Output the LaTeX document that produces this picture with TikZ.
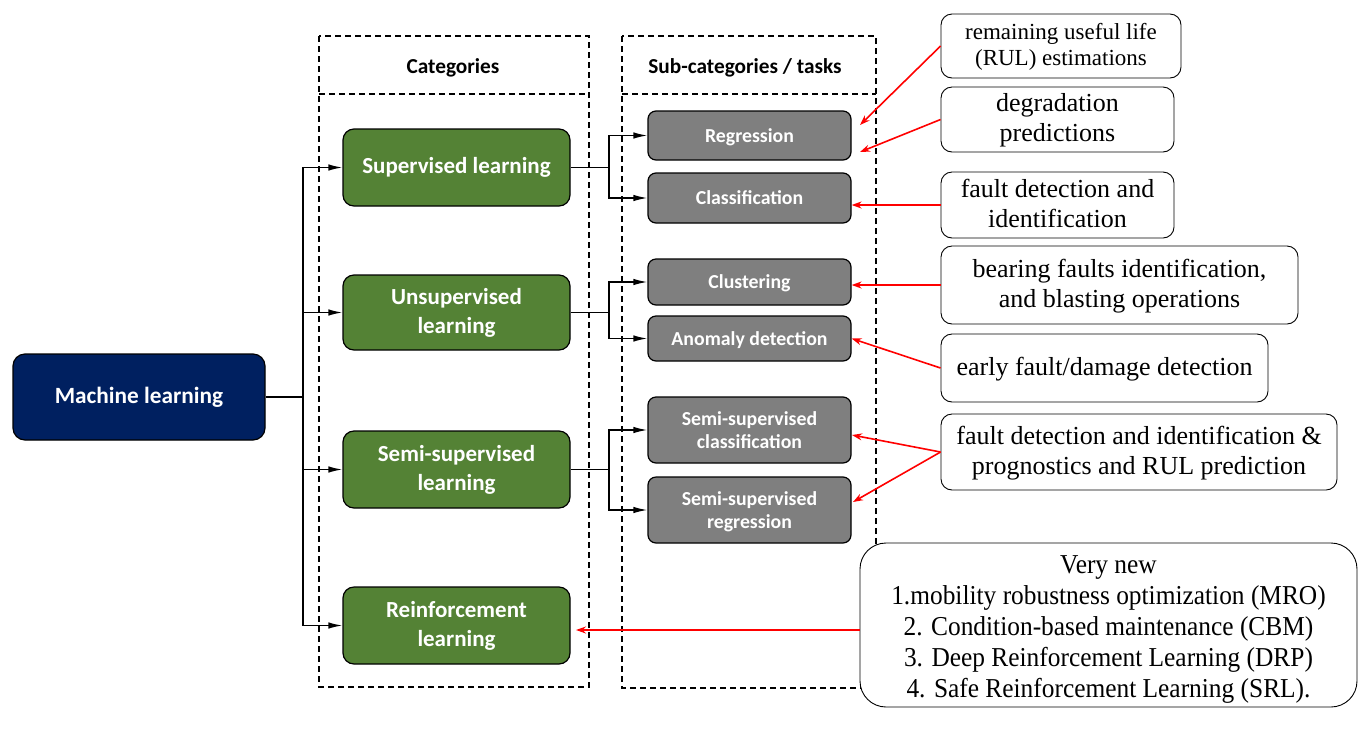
\documentclass[tikz,border=0pt]{standalone}
\usepackage{fontspec}
\usetikzlibrary{arrows.meta,calc}
\newfontfamily\calfont{Carlito}
\newfontfamily\tnrfont{Liberation Serif}
\newfontfamily\tnrcfont[FakeStretch=0.93]{Liberation Serif}
% line struts: \rule[-depth]{0pt}{height+depth}
\newcommand\nst{\rule[-8pt]{0pt}{30pt}}
\newcommand\rst{\rule[-7pt]{0pt}{26pt}}
\newcommand\vst{\rule[-4pt]{0pt}{31pt}}
\newcommand\gst{\rule[-8.5pt]{0pt}{29pt}}
\newcommand\yst{\rule[-5pt]{0pt}{23.6pt}}
\newcommand\mst{\rule[-8pt]{0pt}{28.6pt}}
\newcommand\vnfont{\tnrcfont\fontsize{27.3}{31}\selectfont\lineskiplimit=-100pt\relax}
\definecolor{navy}{HTML}{002060}
\definecolor{ggreen}{HTML}{548235}
\definecolor{ggray}{HTML}{7F7F7F}
\tikzset{
  mlbox/.style={draw=black, line width=1.2pt, fill=navy, rounded corners=12pt, text=white,
    font=\calfont\bfseries\fontsize{23.3}{28}\selectfont, inner sep=0pt, align=center},
  catbox/.style={draw=black, line width=1.2pt, fill=ggreen, rounded corners=11pt, text=white,
    font=\calfont\bfseries\fontsize{23}{29}\selectfont, inner sep=0pt, align=center, minimum width=227pt},
  subbox/.style={draw=black, line width=1.2pt, fill=ggray, rounded corners=8pt, text=white,
    font=\calfont\bfseries\fontsize{19.8}{23.6}\selectfont, inner sep=0pt, align=center, minimum width=203pt},
  notebox/.style={draw=black, line width=0.9pt, fill=white, rounded corners=11pt, inner sep=0pt, align=center,
    font=\tnrfont\fontsize{26}{30}\selectfont},
  dashbox/.style={draw=black, line width=1.2pt, dash pattern=on 6pt off 4pt},
  hdr/.style={font=\calfont\bfseries\fontsize{21.3}{24}\selectfont, inner sep=0pt},
  arr/.style={draw=black, line width=1.4pt, -{Latex[length=14pt,width=6.5pt]}},
  redarr/.style={draw=red, line width=1.6pt, -{Stealth[length=10pt,width=7pt]}}
}
\begin{document}
\begin{tikzpicture}[x=1pt,y=-1pt]
\useasboundingbox (0,0) rectangle (1366,740);
% dashed column frames
\draw[dashbox] (319,36) rectangle (589,687);
\draw[dashbox] (319,94) -- (589,94);
\draw[dashbox] (622,36) rectangle (876,688);
\draw[dashbox] (622,94) -- (876,94);
\node[hdr] (hcat) at (453,67) {\mst Categories};
\node[hdr] (hsub) at (745,67) {\mst Sub-categories / tasks};
% main box
\node[mlbox, minimum width=252pt, minimum height=86pt] (ml) at (139,397) {\mst Machine learning};
% categories
\node[catbox, minimum height=77pt] (sup) at (456.5,167.5) {\gst Supervised learning};
\node[catbox, minimum height=75pt] (uns) at (456.5,312.5) {\gst Unsupervised\\\gst learning};
\node[catbox, minimum height=77pt] (semi) at (456.5,469.5) {\gst Semi-supervised\\\gst learning};
\node[catbox, minimum height=77pt] (rl) at (456.5,625.5) {\gst Reinforcement\\\gst learning};
% sub-categories
\node[subbox, minimum height=49pt] (reg) at (749.5,135.5) {\yst Regression};
\node[subbox, minimum height=50pt] (cls) at (749.5,198) {\yst Classification};
\node[subbox, minimum height=46pt] (clu) at (749.5,282) {\yst Clustering};
\node[subbox, minimum height=45pt] (ano) at (749.5,338.5) {\yst Anomaly detection};
\node[subbox, minimum height=66pt] (sscl) at (749.5,430) {\yst Semi-supervised\\\yst classification};
\node[subbox, minimum height=66pt] (ssrg) at (749.5,510) {\yst Semi-supervised\\\yst regression};
% trunk connectors
\coordinate (tx) at (303,0);
\draw[line width=1.8pt] (ml.east) -- (ml.east -| tx);
\draw[line width=1.4pt] (sup.west -| tx) -- (rl.west -| tx);
\draw[arr] (ml.east -| tx) |- (sup.west);
\draw[arr] (ml.east -| tx) |- (uns.west);
\draw[arr] (ml.east -| tx) |- (semi.west);
\draw[arr] (ml.east -| tx) |- (rl.west);
% branch connectors
\coordinate (jx) at (609,0);
\draw[line width=1.4pt] (sup.east) -- (sup.east -| jx);
\draw[arr] (sup.east -| jx) |- (reg.west);
\draw[arr] (sup.east -| jx) |- (cls.west);
\draw[line width=1.8pt] (uns.east) -- (uns.east -| jx);
\draw[arr] (uns.east -| jx) |- (clu.west);
\draw[arr] (uns.east -| jx) |- (ano.west);
\draw[line width=1.8pt] (semi.east) -- (semi.east -| jx);
\draw[arr] (semi.east -| jx) |- (sscl.west);
\draw[arr] (semi.east -| jx) |- (ssrg.west);
% note boxes
\node[notebox, minimum width=240pt, minimum height=64pt, font=\tnrfont\fontsize{23}{26}\selectfont] (rul) at (1061,46) {\rst remaining useful life\\\rst (RUL) estimations};
\node[notebox, minimum width=233pt, minimum height=65pt] (deg) at (1057.5,119.5) {\nst degradation\\\nst predictions};
\node[notebox, minimum width=233pt, minimum height=66pt] (fdi) at (1057.5,205) {\nst fault detection and\\\nst identification};
\node[notebox, minimum width=357pt, minimum height=78pt] (bear) at (1119.5,285) {\nst bearing faults identification,\\\nst and blasting operations};
\node[notebox, minimum width=327pt, minimum height=68pt] (early) at (1104.5,368) {\nst early fault/damage detection};
\node[notebox, minimum width=396pt, minimum height=76pt] (fdp) at (1139,452) {\nst fault detection and identification \&\\\nst prognostics and RUL prediction};
\node[notebox, minimum width=497pt, minimum height=164pt, rounded corners=26pt, font=\vnfont] (vn) at (1108.5,625) {\vst Very new\\\vst 1.mobility robustness optimization (MRO)\\\vst 2. Condition-based maintenance (CBM)\\\vst 3. Deep Reinforcement Learning (DRP)\\\vst 4. Safe Reinforcement Learning (SRL).};
% red arrows
\coordinate (rulend) at (860,125);
\coordinate (degend) at (860,152);
\coordinate (ssrgend) at (853,502);
\coordinate (sscend) at (852,435);
\coordinate (rlend) at (576,630);
\draw[redarr] (rul.west) -- (rulend);
\draw[redarr] (deg.west) -- (degend);
\draw[redarr] (fdi.west) -- (fdi.west -| cls.east);
\draw[redarr] (bear.west) -- (bear.west -| clu.east);
\draw[redarr] (early.west) -- (ano.east);
\draw[redarr] (fdp.west) -- (sscend);
\draw[redarr] (fdp.west) -- (ssrgend);
\draw[redarr] (vn.west |- rlend) -- (rlend);
\end{tikzpicture}
\end{document}
